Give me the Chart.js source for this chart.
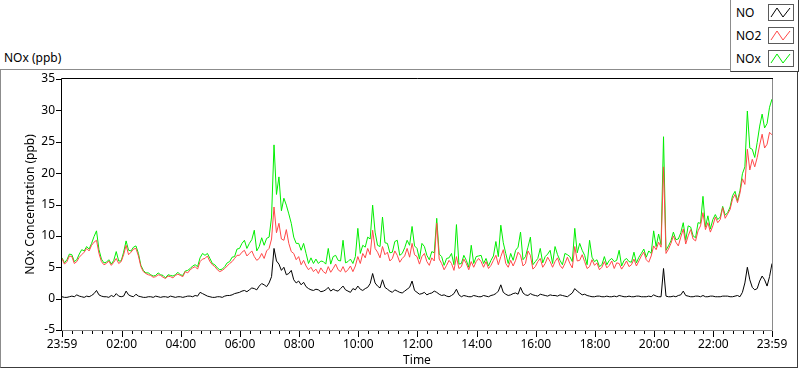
<!DOCTYPE html>
<html>
<head>
<meta charset="utf-8">
<script src="https://cdn.jsdelivr.net/npm/chart.js@4/dist/chart.umd.min.js"></script>
<style>
  html, body { margin: 0; padding: 0; background: #fff; }
  #wrap { position: relative; width: 800px; height: 369px; overflow: hidden; font-family: "Noto Sans", sans-serif; font-size: 12px; color: #000; }
  #panel { position: absolute; left: 0; top: 69px; width: 796px; height: 297px; border-top: 1px solid #8c8c8c; border-left: 1px solid #8c8c8c; border-right: 1px solid #3c3c3c; border-bottom: 1px solid #3c3c3c; }
  #title { position: absolute; left: 4px; top: 50px; line-height: 16px; }
  #legend { position: absolute; left: 730px; top: 0; width: 67px; height: 71px; background: #fff; border-left: 1px solid #8c8c8c; border-right: 1px solid #3c3c3c; border-bottom: 1px solid #3c3c3c; }
  .item { position: absolute; left: 0; width: 67px; height: 17px; }
  .item span { position: absolute; left: 5px; top: 0; line-height: 17px; }
  .item svg { position: absolute; left: 37px; top: 0; }
  canvas { position: absolute; left: 0; top: 0; }
</style>
</head>
<body>
<div id="wrap">
  <div id="panel"></div>
  <div id="title">NOx (ppb)</div>
  <canvas id="chart" width="800" height="369"></canvas>
  <div id="legend"></div>
</div>
<script>
// samples every 5 minutes, starting 23:59
const startMin = -1;
const stepMin = 5;

const noValues = [
  0.3,0.2, 0.2,0.3, 0.4,0.3, 0.6,0.4, 0.3,0.2, 0.4,0.3, 0.5,0.8, 1.3,0.6, 0.4,0.3, 0.3,0.2,
  0.5,0.3, 0.8,0.4, 0.3,0.4, 1.2,0.6, 0.4,0.3, 0.7,0.4, 0.3,0.2, 0.2,0.3, 0.3,0.2, 0.4,0.3,
  0.2,0.3, 0.3,0.2, 0.4,0.3, 0.2,0.3, 0.3,0.2, 0.3,0.4, 0.4,0.3, 0.5,0.4, 1.0,0.8, 0.6,0.4,
  0.3,0.2, 0.2,0.3, 0.3,0.2, 0.4,0.5, 0.5,0.6, 0.8,0.9, 1.0,1.2, 1.3,1.1, 1.4,1.7, 1.6,1.4,
  2.0,2.4, 2.2,1.9, 2.5,3.5, 8.0,6.0, 5.5,4.5, 5.0,3.8, 4.0,4.5, 3.0,2.5, 2.8,2.2, 2.6,1.9,
  1.6,1.4, 1.3,1.5, 1.4,1.1, 1.2,1.4, 1.8,1.2, 1.5,1.3, 1.2,1.6, 2.0,1.4, 1.2,1.0, 1.6,1.4,
  2.0,1.5, 1.3,1.6, 1.8,2.4, 4.0,2.5, 2.0,1.7, 3.0,1.8, 1.5,1.2, 1.0,1.4, 1.2,1.0, 0.9,1.2,
  1.5,1.8, 2.8,1.3, 1.0,0.7, 0.8,1.0, 0.6,0.8, 0.9,1.2, 1.0,0.7, 0.5,0.6, 0.4,0.3, 0.5,0.8,
  1.5,0.6, 0.3,0.5, 0.4,0.3, 0.3,0.5, 0.4,0.3, 0.3,0.5, 0.4,0.3, 0.5,0.6, 0.8,1.2, 2.2,1.0,
  0.7,0.5, 0.6,0.8, 0.9,0.7, 1.8,0.9, 0.6,0.5, 0.8,0.6, 0.5,0.4, 0.7,0.6, 0.5,0.4, 0.6,0.5,
  0.5,0.4, 0.6,0.5, 0.4,0.3, 0.6,0.9, 1.6,1.2, 0.9,0.6, 0.7,0.5, 0.4,0.3, 0.3,0.4, 0.4,0.3,
  0.3,0.4, 0.3,0.3, 0.4,0.3, 0.5,0.4, 0.3,0.3, 0.4,0.3, 0.3,0.4, 0.4,0.3, 0.3,0.3, 0.4,0.3,
  0.6,0.4, 0.3,0.3, 4.8,0.4, 0.3,0.3, 0.4,0.3, 0.5,0.6, 1.2,0.5, 0.4,0.3, 0.3,0.4, 0.4,0.3,
  0.5,0.3, 0.3,0.4, 0.4,0.3, 0.3,0.3, 0.4,0.4, 0.4,0.3, 0.3,0.4, 0.5,0.3, 1.0,2.5, 5.0,3.0,
  1.8,1.4, 1.6,2.8, 3.6,3.0, 2.0,3.5, 5.6
];

const no2Values = [
  6.4,5.5, 5.9,6.8, 6.7,5.6, 5.9,6.6, 7.0,7.4, 8.0,7.6, 8.5,9.0, 9.3,7.2, 5.9,5.4, 5.6,6.0,
  5.3,5.8, 6.4,5.6, 5.9,7.0, 8.5,7.0, 7.4,7.9, 8.0,6.8, 5.1,4.3, 4.0,3.8, 3.7,3.4, 3.5,3.8,
  3.7,3.4, 3.2,3.6, 3.5,3.3, 3.7,3.9, 3.7,3.5, 4.3,4.1, 4.6,4.9, 5.1,4.7, 5.9,6.3, 6.4,6.8,
  5.9,5.4, 5.1,4.6, 4.3,4.5, 4.8,5.2, 5.6,5.9, 6.4,6.9, 6.9,7.4, 7.7,6.8, 7.2,7.6, 6.7,6.1,
  6.4,7.2, 6.4,7.6, 8.0,9.5, 14.6,10.5, 12.0,9.5, 9.3,11.0, 8.8,7.5, 7.2,6.2, 6.7,5.4, 6.1,5.2,
  4.6,5.0, 4.3,4.7, 4.0,4.9, 4.3,4.0, 5.1,4.2, 4.8,5.5, 4.6,4.3, 5.1,4.2, 4.6,5.2, 4.3,5.2,
  6.7,5.6, 7.2,6.5, 8.0,7.0, 10.9,8.0, 7.4,6.5, 8.3,7.0, 7.4,6.0, 6.4,7.6, 6.9,5.8, 6.4,6.8,
  8.0,6.6, 8.8,7.0, 6.7,5.5, 6.7,7.2, 5.9,5.3, 6.5,6.0, 12.0,6.3, 5.6,4.6, 5.3,6.1, 5.6,4.5,
  6.7,4.8, 5.1,6.3, 5.6,4.6, 5.9,5.0, 5.9,6.4, 5.9,5.0, 5.9,4.8, 5.3,6.1, 6.9,5.4, 6.7,7.8,
  5.6,5.0, 6.1,5.2, 6.1,7.4, 6.9,5.2, 5.6,7.6, 6.9,4.7, 5.1,5.9, 6.4,5.0, 5.6,6.6, 5.9,5.0,
  5.9,6.5, 5.3,4.8, 5.6,6.6, 5.6,4.9, 8.3,6.0, 6.1,7.0, 5.9,4.8, 5.1,6.2, 5.3,5.7, 4.6,5.0,
  5.9,4.9, 5.3,6.0, 4.8,5.7, 5.6,4.7, 5.3,6.0, 5.1,5.4, 6.3,5.2, 6.0,6.8, 7.4,6.2, 5.8,6.8,
  8.4,7.8, 9.0,8.2, 21.0,7.2, 7.9,8.8, 10.0,9.0, 8.4,9.8, 11.1,8.7, 10.0,11.0, 9.5,9.2, 10.8,11.6,
  13.7,11.0, 12.1,10.6, 11.6,13.0, 12.1,12.6, 14.5,12.8, 13.5,14.2, 15.9,16.6, 15.3,16.8, 19.1,18.2, 23.8,20.5,
  22.2,21.0, 22.5,24.5, 26.2,24.0, 24.6,26.5, 26.1
];

const noxValues = [
  6.5,5.7, 6.2,7.1, 7.0,5.9, 6.2,7.1, 7.8,7.6, 8.3,7.9, 8.8,9.9, 10.8,7.8, 6.3,5.7, 5.8,6.2,
  5.5,6.1, 7.5,6.0, 6.0,7.4, 9.2,7.7, 7.6,8.2, 8.4,7.2, 5.3,4.5, 4.1,4.1, 3.8,3.6, 3.7,4.1,
  3.8,3.7, 3.3,3.8, 3.7,3.6, 3.8,4.2, 3.8,3.7, 4.4,4.5, 4.8,5.2, 5.4,5.1, 6.5,7.2, 6.9,7.2,
  6.4,5.6, 5.4,4.9, 4.6,4.7, 5.1,5.7, 5.9,6.6, 6.7,7.9, 8.0,8.8, 9.3,8.0, 8.8,9.4, 10.9,7.6,
  8.3,9.7, 8.5,9.6, 9.8,13.0, 24.5,16.6, 19.4,14.0, 16.0,14.9, 13.5,12.0, 9.8,8.8, 8.8,7.7, 8.8,7.2,
  5.6,6.5, 5.6,6.3, 5.6,6.0, 5.9,5.5, 8.0,5.5, 6.7,6.9, 6.1,6.0, 9.3,5.7, 5.9,6.3, 5.6,6.7,
  11.2,7.2, 8.5,8.2, 9.8,9.5, 14.9,10.6, 8.5,8.3, 13.0,8.9, 8.8,7.3, 7.4,9.1, 9.3,6.9, 7.2,8.1,
  9.3,8.5, 11.5,8.4, 8.0,6.3, 8.8,8.3, 6.9,6.2, 7.5,7.3, 12.8,7.1, 6.7,5.3, 6.4,6.5, 7.2,5.4,
  11.8,5.5, 5.6,6.9, 6.1,5.0, 8.5,5.6, 6.7,6.8, 6.9,5.6, 6.4,5.2, 6.1,6.8, 9.1,6.7, 11.7,8.9,
  7.2,5.6, 7.2,6.1, 7.7,8.2, 10.6,6.2, 6.7,8.2, 9.8,5.4, 5.9,6.4, 8.0,5.7, 6.7,7.1, 7.7,5.6,
  8.3,7.0, 6.1,5.4, 7.2,7.0, 6.7,5.9, 11.2,7.3, 8.8,7.7, 6.9,5.4, 9.3,6.6, 5.9,6.2, 5.1,5.4,
  6.7,5.4, 6.1,6.4, 5.9,6.1, 7.7,5.2, 6.1,6.4, 5.9,5.8, 7.4,5.7, 6.6,7.2, 7.9,6.6, 7.6,7.2,
  10.8,8.3, 10.3,8.6, 25.8,7.7, 8.4,9.2, 10.6,9.4, 9.5,10.5, 12.1,9.3, 11.6,11.4, 10.0,9.7, 12.1,12.0,
  16.3,11.4, 13.2,11.1, 12.6,13.4, 12.6,13.0, 14.7,13.3, 13.7,14.6, 16.4,17.1, 15.6,17.2, 19.9,21.0, 29.9,24.0,
  23.8,22.5, 24.9,27.5, 29.4,27.2, 27.9,30.5, 31.8
];

const seriesNames = ['NO', 'NO2', 'NOx'];
const seriesColors = ['#000000', '#ff4848', '#00ee00'];

// x axis: labelled ticks (minutes after midnight) and minor ticks every 20 min
const tickMinutes = [-1, 120, 240, 360, 480, 600, 720, 840, 960, 1080, 1200, 1320, 1439];
const tickLabels = ['23:59', '02:00', '04:00', '06:00', '08:00', '10:00', '12:00', '14:00', '16:00', '18:00', '20:00', '22:00', '23:59'];
const minorStep = 20;

function toPoints(vals) {
  return vals.map((v, i) => ({ x: startMin + i * stepMin, y: v }));
}

function allXTicks() {
  const out = tickMinutes.slice();
  for (let m = minorStep; m < 1439; m += minorStep) {
    if (m % 120 !== 0) out.push(m);
  }
  return out.sort((a, b) => a - b);
}

// legend (html)
(function buildLegend() {
  const lg = document.getElementById('legend');
  const tops = [4, 27, 50];
  seriesNames.forEach((name, k) => {
    const d = document.createElement('div');
    d.className = 'item';
    d.style.top = tops[k] + 'px';
    d.innerHTML = '<span>' + name + '</span>' +
      '<svg width="26" height="17"><rect x="0.5" y="0.5" width="25" height="16" fill="#fff" stroke="#5a5a5a"/>' +
      '<polyline points="3,13 9,4 15,13 22,4" fill="none" stroke="' + seriesColors[k] + '" stroke-width="1"/></svg>';
    lg.appendChild(d);
  });
})();

const frameAndTicks = {
  id: 'frameAndTicks',
  afterDraw(chart) {
    const { ctx, chartArea: a, scales: { x, y } } = chart;
    ctx.save();
    ctx.lineWidth = 1;
    ctx.strokeStyle = '#8a8a8a';
    ctx.beginPath();
    ctx.moveTo(a.right + 0.5, a.top);
    ctx.lineTo(a.right + 0.5, a.bottom + 0.5);
    ctx.lineTo(a.left, a.bottom + 0.5);
    ctx.stroke();
    ctx.strokeStyle = '#000';
    ctx.beginPath();
    ctx.moveTo(a.left - 0.5, a.bottom + 1);
    ctx.lineTo(a.left - 0.5, a.top - 0.5);
    ctx.lineTo(a.right + 1, a.top - 0.5);
    ctx.stroke();
    ctx.beginPath();
    x.ticks.forEach(t => {
      const px = Math.round(x.getPixelForValue(t.value)) + 0.5;
      const major = tickMinutes.includes(t.value);
      ctx.moveTo(px, a.bottom + 1);
      ctx.lineTo(px, a.bottom + (major ? 7 : 4));
    });
    y.ticks.forEach(t => {
      const py = Math.round(y.getPixelForValue(t.value)) + 0.5;
      ctx.moveTo(a.left - 6, py);
      ctx.lineTo(a.left, py);
    });
    ctx.stroke();
    ctx.restore();
  }
};

const font = { family: '"Noto Sans", sans-serif', size: 12 };

new Chart(document.getElementById('chart'), {
  type: 'line',
  data: {
    datasets: [
      { label: seriesNames[0], data: toPoints(noValues), borderColor: seriesColors[0] },
      { label: seriesNames[1], data: toPoints(no2Values), borderColor: seriesColors[1] },
      { label: seriesNames[2], data: toPoints(noxValues), borderColor: seriesColors[2] }
    ]
  },
  options: {
    responsive: false,
    animation: false,
    devicePixelRatio: 1,
    elements: { line: { borderWidth: 1, tension: 0 }, point: { radius: 0 } },
    layout: { padding: { left: 0, right: 28, top: 79, bottom: 0 } },
    plugins: { legend: { display: false }, tooltip: { enabled: false } },
    scales: {
      x: {
        type: 'linear',
        min: -1,
        max: 1439,
        afterFit: s => { s.height = 39; },
        afterBuildTicks: s => { s.ticks = allXTicks().map(v => ({ value: v })); },
        grid: { display: false, drawTicks: false, tickLength: 0 },
        border: { display: false },
        ticks: {
          autoSkip: false,
          maxRotation: 0,
          padding: 7,
          color: '#000',
          font,
          callback: v => { const k = tickMinutes.indexOf(v); return k >= 0 ? tickLabels[k] : ''; }
        },
        title: { display: true, text: 'Time', color: '#000', font, padding: { top: 0, bottom: 1 } }
      },
      y: {
        min: -5,
        max: 35,
        afterFit: s => { s.width = 62; },
        grid: { display: false, drawTicks: false, tickLength: 0 },
        border: { display: false },
        ticks: { stepSize: 5, padding: 7, color: '#000', font },
        title: { display: true, text: 'NOx Concentration (ppb)', color: '#000', font, padding: { top: 23, bottom: 0 } }
      }
    }
  },
  plugins: [frameAndTicks]
});
</script>
</body>
</html>
